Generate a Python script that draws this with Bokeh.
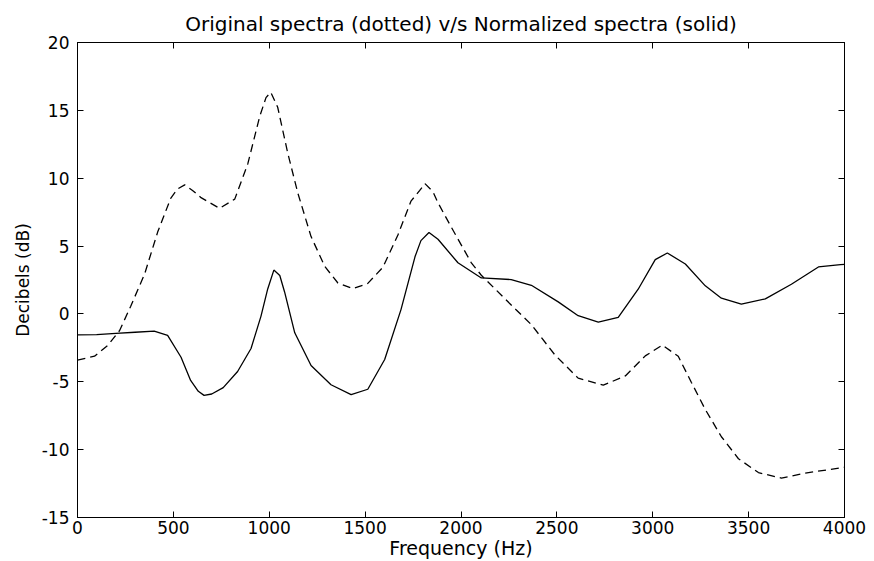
from bokeh.plotting import figure
from bokeh.models import LinearAxis, Range1d, FixedTicker, CustomJSTickFormatter
from bokeh.embed import file_html
from bokeh.resources import INLINE

# Normalized spectrum (solid)
norm_freq = [0, 100, 200, 300, 400, 470, 540, 590, 630, 660, 700, 760, 835, 905, 957,
             992, 1024, 1055, 1080, 1133, 1218, 1322, 1427, 1514, 1602, 1687, 1760, 1791,
             1833, 1880, 1984, 2106, 2262, 2367, 2507, 2611, 2716, 2820, 2924, 3013, 3076,
             3170, 3274, 3358, 3462, 3587, 3723, 3864, 3979, 4000]
norm_db = [-1.55, -1.52, -1.43, -1.35, -1.27, -1.58, -3.19, -4.9, -5.7, -6.0, -5.9, -5.43,
           -4.24, -2.55, -0.16, 1.84, 3.23, 2.83, 1.62, -1.39, -3.8, -5.22, -5.94, -5.55,
           -3.36, 0.32, 4.21, 5.4, 6.0, 5.5, 3.77, 2.65, 2.53, 2.11, 0.89, -0.13, -0.6,
           -0.25, 1.82, 4.0, 4.49, 3.68, 2.07, 1.16, 0.73, 1.11, 2.19, 3.46, 3.64, 3.65]

# Original spectrum (dashed)
orig_freq = [0, 89, 157, 219, 277, 350, 418, 486, 522, 559, 600, 642, 741, 820, 888, 950,
             983, 1008, 1044, 1097, 1149, 1218, 1290, 1358, 1436, 1514, 1593, 1671, 1739,
             1785, 1812, 1854, 1880, 1950, 2054, 2106, 2228, 2367, 2489, 2611, 2742, 2857,
             2961, 3050, 3133, 3201, 3274, 3358, 3447, 3551, 3671, 3796, 4000]
orig_db = [-3.4, -3.11, -2.33, -1.24, 0.55, 2.94, 6.03, 8.52, 9.21, 9.51, 9.1, 8.59, 7.78,
           8.46, 11.05, 14.54, 15.94, 16.33, 15.23, 11.82, 8.91, 5.7, 3.49, 2.28, 1.86,
           2.25, 3.44, 5.82, 8.31, 9.1, 9.6, 9.0, 8.19, 6.38, 3.76, 2.85, 1.13, -0.79,
           -3.01, -4.73, -5.25, -4.57, -3.09, -2.3, -3.12, -5.03, -7.04, -9.05, -10.67,
           -11.69, -12.1, -11.73, -11.3]

x_ticks = [0, 500, 1000, 1500, 2000, 2500, 3000, 3500, 4000]
y_ticks = [-15, -10, -5, 0, 5, 10, 15, 20]

FONT = "DejaVu Sans"

p = figure(width=874, height=561, output_backend="svg", toolbar_location=None,
           x_range=Range1d(0, 4000), y_range=Range1d(-15, 20),
           min_border_left=77, min_border_right=30, min_border_top=42, min_border_bottom=43,
           title="Original spectra (dotted) v/s Normalized spectra (solid)")

p.title.align = "center"
p.title.text_font = FONT
p.title.text_font_size = "20px"
p.title.text_font_style = "normal"
p.title.text_color = "black"
p.title.standoff = 14

p.grid.visible = False
p.outline_line_color = "black"
p.outline_line_width = 1
p.background_fill_color = "white"
p.border_fill_color = "white"

plain = CustomJSTickFormatter(code="return String(tick);")
p.xaxis.ticker = FixedTicker(ticks=x_ticks)
p.yaxis.ticker = FixedTicker(ticks=y_ticks)
p.xaxis.formatter = plain
p.yaxis.formatter = plain
p.xaxis.axis_label = "Frequency (Hz)"
p.yaxis.axis_label = "Decibels (dB)"

for ax in (p.xaxis[0], p.yaxis[0]):
    ax.major_tick_in = 6
    ax.major_tick_out = 0
    ax.minor_tick_line_color = None
    ax.axis_line_color = "black"
    ax.major_tick_line_color = "black"
    ax.major_label_text_font = FONT
    ax.major_label_text_font_size = "17px"
    ax.major_label_text_color = "black"
    ax.axis_label_text_font = FONT
    ax.axis_label_text_font_style = "normal"
    ax.axis_label_text_color = "black"

p.xaxis.axis_label_text_font_size = "19px"
p.yaxis.axis_label_text_font_size = "17px"
p.xaxis.major_label_standoff = 3
p.xaxis.axis_label_standoff = 0
p.yaxis.major_label_standoff = 8
p.yaxis.axis_label_standoff = 6

blank = CustomJSTickFormatter(code="return '';")
top_ax = LinearAxis(ticker=FixedTicker(ticks=x_ticks), formatter=blank)
right_ax = LinearAxis(ticker=FixedTicker(ticks=y_ticks), formatter=blank)
for ax in (top_ax, right_ax):
    ax.major_tick_in = 6
    ax.major_tick_out = 0
    ax.minor_tick_line_color = None
    ax.axis_line_color = "black"
    ax.major_tick_line_color = "black"
    ax.major_label_standoff = 0
p.add_layout(top_ax, "above")
p.add_layout(right_ax, "right")

p.line(orig_freq, orig_db, line_color="black", line_width=1.3, line_dash="8 5")
p.line(norm_freq, norm_db, line_color="black", line_width=1.3)

open("out.html", "w").write(file_html(p, INLINE))
